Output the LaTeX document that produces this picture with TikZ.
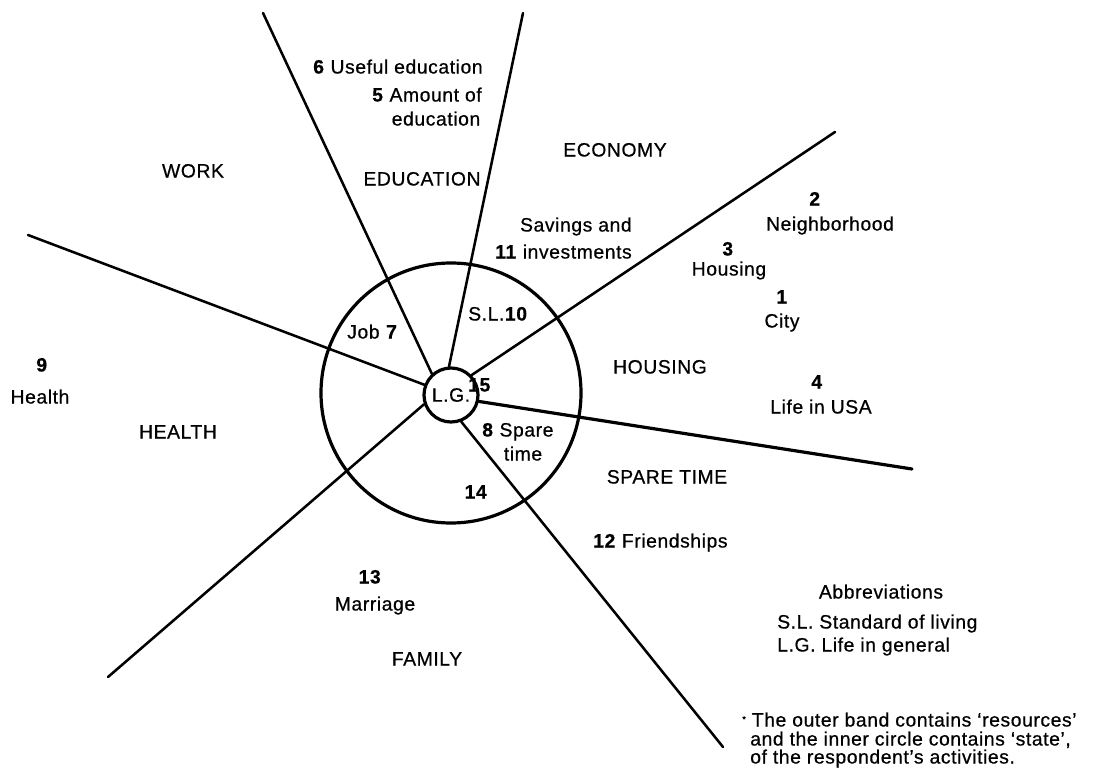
\documentclass[tikz,border=0pt]{standalone}
\usepackage{fontspec}
\setmainfont{Liberation Sans}[LetterSpace=3,FakeBold=0.6,BoldFeatures={FakeBold=0.6}]
\newcommand\lblfont{\fontsize{14.5}{17}\selectfont}
\begin{document}
\begin{tikzpicture}[x=0.75pt,y=-0.75pt,
  lbl/.style={inner sep=0pt,anchor=mid,font=\lblfont},
  lblw/.style={lbl,anchor=mid west},
  lble/.style={lbl,anchor=mid east},
  ring/.style={draw,circle,line width=2.4pt,inner sep=0pt},
  ray/.style={line width=1.9pt,line cap=round}]
\useasboundingbox (0,0) rectangle (1106,773);
\fill[white] (0,0) rectangle (1106,773);

% circles
\node[ring,minimum size=195pt] (outer) at (451,393) {};
\node[ring,minimum size=40.5pt,font=\lblfont] (inner) at (451,395) {L.G.};

% ray end points
\coordinate (e1) at (263,13);
\coordinate (e2) at (523,13);
\coordinate (e3) at (835,132);
\coordinate (e4) at (912,469);
\coordinate (e5) at (723,747);
\coordinate (e6) at (108,677);
\coordinate (e7) at (28,235);

\draw[ray] (inner.132) -- (e1);
\draw[ray] (inner.94) -- (e2);
\draw[ray] (inner.44) -- (e3);
\draw[ray,line width=2.4pt] (inner.-13) -- (e4);
\draw[ray] (inner.-69) -- (e5);
\draw[ray] (inner.199) -- (e6);
\draw[ray] (inner.159) -- (e7);

% sector labels
\node[lbl] (work) at (193,174) {WORK};
\node[lbl] (educ) at (422,182) {EDUCATION};
\node[lbl] (econ) at (615,153) {ECONOMY};
\node[lbl] (hous) at (660,370) {HOUSING};
\node[lbl] (spare) at (667,480) {SPARE TIME};
\node[lbl] (health) at (178,435) {HEALTH};
\node[lbl] (family) at (427,662) {FAMILY};

% outer items
\node[lblw] (i6) at (313,70) {\textbf{6} Useful education};
\node[lblw] (i5) at (372,98) {\textbf{5} Amount of};
\node[lbl] (i5b) at (436,122) {education};
\node[lble] (i11a) at (632,228) {Savings and};
\node[lble] (i11) at (632,255) {\textbf{11} investments};
\node[lbl] (n2) at (815,202) {\textbf{2}};
\node[lbl] (i2) at (830,227) {Neighborhood};
\node[lbl] (n3) at (728,252) {\textbf{3}};
\node[lbl] (i3) at (729,272) {Housing};
\node[lbl] (n1) at (782,300) {\textbf{1}};
\node[lbl] (i1) at (782,324) {City};
\node[lbl] (n4) at (817,385) {\textbf{4}};
\node[lbl] (i4) at (821,410) {Life in USA};
\node[lblw] (i12) at (593,544) {\textbf{12} Friendships};
\node[lbl] (n9) at (42,368) {\textbf{9}};
\node[lbl] (i9) at (40,400) {Health};
\node[lbl] (n13) at (370,580) {\textbf{13}};
\node[lbl] (i13) at (375,607) {Marriage};

% inner items
\node[lblw] (i7) at (347,335) {Job \textbf{7}};
\node[lblw] (i10) at (468,317) {S.L.\textbf{10}};
\node[lblw] (i15) at (468,388) {\textbf{15}};
\node[lblw] (i8) at (482,433) {\textbf{8} Spare};
\node[lbl] (i8b) at (523,457) {time};
\node[lbl] (i14) at (476,495) {\textbf{14}};

% legend
\node[lbl] (abbr) at (881,595) {Abbreviations};
\node[lblw] (ab1) at (777,625) {S.L. Standard of living};
\node[lblw] (ab2) at (777,648) {L.G. Life in general};
\node[lblw] (fn1) at (742,723) {\raisebox{0.4ex}{\scriptsize*} The outer band contains ‘resources’};
\node[lblw] (fn2) at (750,742) {and the inner circle contains ‘state’,};
\node[lblw] (fn3) at (750,760) {of the respondent’s activities.};
\end{tikzpicture}
\end{document}
